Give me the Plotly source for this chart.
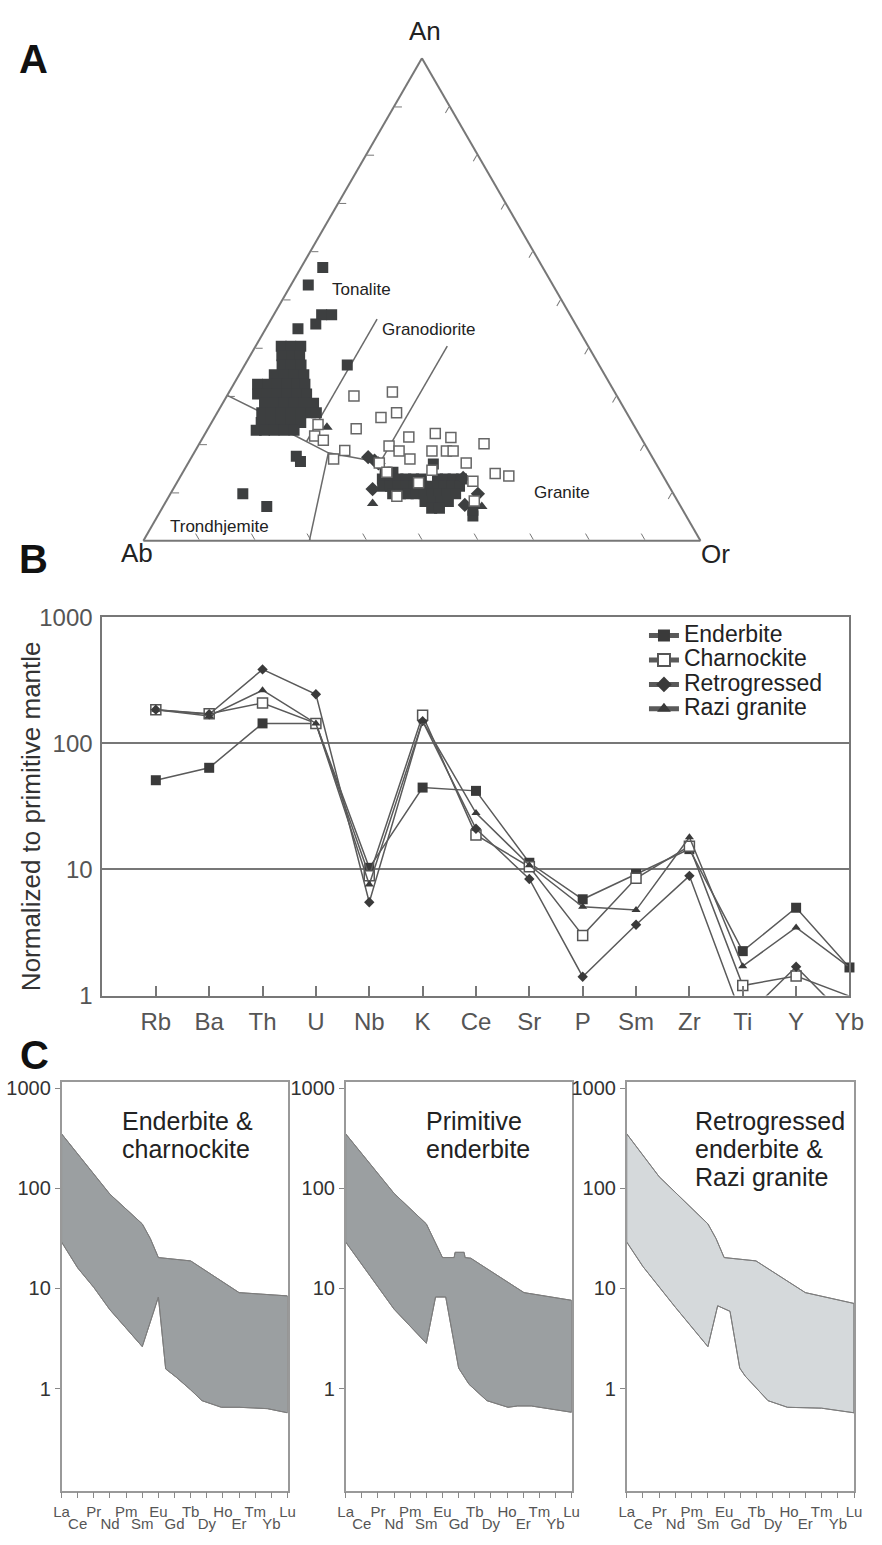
import plotly.graph_objects as go

FONT = "Liberation Sans, Arial, Helvetica, sans-serif"
W, H = 882, 1545

# ---------------- Panel A : An-Ab-Or ternary (percent; Ab = 100 - An - Or) ----------------
ender_an = [56.6, 53.0, 46.8, 46.8, 44.9, 43.9, 36.4, 22.9, 17.5, 16.4, 9.7, 7.1,
            40.3, 40.3, 40.3,
            38.3, 38.3, 38.3,
            36.4, 36.4, 36.4,
            34.4, 34.4, 34.4, 34.4,
            32.4, 32.4, 32.4, 32.4, 32.4, 32.4,
            30.4, 30.4, 30.4, 30.4, 30.4, 30.4,
            28.5, 28.5, 28.5, 28.5, 28.5, 28.5,
            26.5, 26.5, 26.5, 26.5, 26.5, 26.5, 26.5,
            24.5, 24.5, 24.5, 24.5, 24.5,
            22.9, 22.9, 22.9, 22.9,
            15.9,
            14.2, 14.2,
            12.8, 12.8, 12.8, 12.8, 12.8, 12.8, 12.8, 12.8, 12.8, 12.8,
            11.3, 11.3, 11.3, 11.3, 11.3, 11.3, 11.3, 11.3, 11.3, 11.3, 11.3,
            9.7, 9.7, 9.7, 9.7, 9.7, 9.7, 9.7, 9.7, 9.7,
            8.1, 8.1, 8.1, 8.1,
            6.7, 6.7,
            5.1, 6.3]
ender_or = [3.9, 3.1, 8.6, 10.4, 8.5, 5.8, 18.4, 8.8, 18.7, 20.0, 13.0, 18.6,
            4.6, 6.3, 8.1,
            5.7, 7.5, 8.9,
            6.7, 8.3, 10.1,
            6.3, 8.1, 9.8, 11.6,
            4.3, 6.1, 7.8, 9.6, 11.4, 12.8,
            5.3, 7.0, 8.8, 10.6, 12.3, 14.1,
            7.5, 9.3, 11.0, 12.8, 14.6, 16.3,
            8.0, 9.7, 11.5, 13.3, 15.0, 16.8, 17.8,
            8.9, 10.7, 12.5, 14.2, 16.0,
            10.3, 12.0, 13.8, 15.6,
            44.1,
            36.3, 37.7,
            36.5, 37.9, 39.3, 40.7, 42.1, 43.5, 46.4, 47.8, 49.2, 50.7,
            37.3, 38.7, 40.1, 41.5, 42.9, 44.4, 45.8, 47.2, 48.4, 49.7, 51.1,
            39.9, 41.3, 42.7, 44.1, 45.5, 46.9, 48.3, 49.7, 51.2,
            46.5, 47.9, 49.3, 50.7,
            48.4, 49.8,
            56.6, 56.0]

charn_an = [30.0, 23.2, 24.1, 21.7, 20.8, 18.7, 16.9, 30.8, 26.5, 25.5, 21.5, 22.2, 21.4,
            20.1, 19.6, 18.6, 18.6, 18.6, 18.6, 16.9, 16.1, 16.1, 14.2, 14.6, 12.0, 12.3,
            13.9, 13.4, 9.2, 8.2]
charn_or = [22.8, 26.6, 19.3, 19.9, 21.9, 26.8, 25.7, 29.3, 32.2, 29.9, 36.9, 41.3, 44.5,
            51.1, 34.3, 36.6, 42.5, 45.1, 46.3, 39.4, 49.9, 34.3, 36.6, 44.5, 43.4, 53.0,
            56.2, 58.9, 40.9, 55.3]

retro_an = [17.3, 16.6, 16.0, 10.7, 7.4, 9.7, 13.0]
retro_or = [31.7, 33.2, 34.2, 35.8, 54.0, 55.2, 50.9]

razi_an = [23.5, 7.7, 7.1]
razi_or = [21.2, 37.3, 57.2]

# field boundaries (An, Or)
curve_an = [30.1, 26.5, 22.1, 18.2, 16.2]
curve_or = [0.0, 8.1, 15.6, 24.1, 34.5]
tongd_an = [20.6, 45.9]
tongd_or = [19.0, 19.0]
gdgr_an = [16.2, 40.3]
gdgr_or = [34.4, 34.4]
trgr_an = [18.2, 0.0]
trgr_or = [24.1, 29.8]

# ---------------- Panel B : spider diagram ----------------
elements_b = ["Rb", "Ba", "Th", "U", "Nb", "K", "Ce", "Sr", "P", "Sm", "Zr", "Ti", "Y", "Yb"]
enderbite = [51, 64, 144, 144, 10.3, 44.6, 42, 11.3, 5.8, 9.2, 14.5, 2.25, 4.97, 1.67]
charnockite = [185, 172, 209, 144, 8.9, 167, 18.8, 10.5, 3.0, 8.5, 15.3, 1.2, 1.43, 0.99]
retrogressed = [185, 170, 386, 245, 5.5, 150, 21, 8.4, 1.41, 3.64, 8.9, 0.65, 1.69, 0.63]
razi_granite = [185, 165, 264, 144, 7.6, 150, 28, 10.8, 5.06, 4.76, 18, 1.71, 3.47, 1.67]

# ---------------- Panel C : REE envelopes (x = element index, La = 0) ----------------
ree = ["La", "Ce", "Pr", "Nd", "Pm", "Sm", "Eu", "Gd", "Tb", "Dy", "Ho", "Er", "Tm", "Yb", "Lu"]

c1_up_x = [0, 3, 5, 5.5, 6, 8, 11, 14]
c1_up_y = [349, 87, 44, 31.4, 20.3, 18.8, 9.07, 8.41]
c1_lo_x = [0, 1, 2, 3, 4, 5, 6, 6.45, 7.1, 8.0, 8.7, 9.9, 11, 12.75, 14]
c1_lo_y = [29, 16, 10.2, 6.1, 4.0, 2.62, 8.2, 1.57, 1.3, 0.97, 0.757, 0.65, 0.65, 0.63, 0.573]

c2_up_x = [0, 3, 5, 5.5, 6, 6.72, 6.78, 7.34, 7.4, 7.75, 11.05, 14]
c2_up_y = [349, 88.7, 44, 30.3, 20.3, 20.3, 22.9, 22.9, 20.3, 20.0, 9.07, 7.6]
c2_lo_x = [0, 3, 5, 5.57, 6.2, 7.0, 7.65, 8.75, 10.06, 10.66, 11.5, 14]
c2_lo_y = [29, 6.2, 2.83, 8.2, 8.2, 1.6, 1.1, 0.757, 0.65, 0.67, 0.67, 0.58]

c3_up_x = [0, 2, 5, 5.5, 6, 7.96, 11, 14]
c3_up_y = [349, 130, 44, 31.4, 20.3, 18.8, 9.07, 7.07]
c3_lo_x = [0, 1, 3, 5, 5.6, 6.36, 6.96, 7.3, 8.7, 9.9, 12, 14]
c3_lo_y = [29, 16.5, 6.46, 2.62, 6.7, 5.9, 1.6, 1.33, 0.757, 0.65, 0.637, 0.573]


def px(x):
    return x / W


def py(y):
    return 1 - y / H


def ab_of(an, orr):
    return [round(100 - a - o, 2) for a, o in zip(an, orr)]


fig = go.Figure()

# ---- Panel A traces ----
for an, orr in [(curve_an, curve_or), (tongd_an, tongd_or), (gdgr_an, gdgr_or), (trgr_an, trgr_or)]:
    fig.add_trace(go.Scatterternary(a=an, b=ab_of(an, orr), c=orr, mode="lines",
                                    line=dict(color="#6a6a6a", width=1.5),
                                    showlegend=False, hoverinfo="skip"))

fig.add_trace(go.Scatterternary(a=ender_an, b=ab_of(ender_an, ender_or), c=ender_or, mode="markers",
                                marker=dict(symbol="square", size=11, color="#3d3f40"),
                                showlegend=False))
fig.add_trace(go.Scatterternary(a=retro_an, b=ab_of(retro_an, retro_or), c=retro_or, mode="markers",
                                marker=dict(symbol="diamond", size=11, color="#3d3f40"),
                                showlegend=False))
fig.add_trace(go.Scatterternary(a=razi_an, b=ab_of(razi_an, razi_or), c=razi_or, mode="markers",
                                marker=dict(symbol="triangle-up", size=10, color="#3d3f40"),
                                showlegend=False))
fig.add_trace(go.Scatterternary(a=charn_an, b=ab_of(charn_an, charn_or), c=charn_or, mode="markers",
                                marker=dict(symbol="square", size=10, color="white",
                                            line=dict(color="#666", width=1.5)),
                                showlegend=False))

# ---- Panel B traces ----
xb = list(range(len(elements_b)))
LEG = "<span style='font-size:23px'>%s</span>"
series = [
    ("Enderbite", enderbite, dict(symbol="square", size=10, color="#3a3a3a"), False),
    ("Charnockite", charnockite, dict(symbol="square", size=10, color="white",
                                      line=dict(color="#555", width=1.5)), False),
    ("Retrogressed", retrogressed, dict(symbol="diamond", size=8, color="#3a3a3a"), True),
    ("Razi granite", razi_granite, dict(symbol="triangle-up", size=8, color="#3a3a3a"), False),
]
for name, vals, mk, clip in series:
    fig.add_trace(go.Scatter(x=xb, y=vals, name=LEG % name, mode="lines+markers",
                             line=dict(color="#5a5a5a", width=1.5), marker=mk,
                             cliponaxis=clip, xaxis="x", yaxis="y"))

# ---- Panel C traces: filled envelope on the main x axis, outline on the overlay x axis ----
panels_c = [
    (c1_up_x, c1_up_y, c1_lo_x, c1_lo_y, "#9b9fa1", "x2", "x3", "y2"),
    (c2_up_x, c2_up_y, c2_lo_x, c2_lo_y, "#9b9fa1", "x4", "x5", "y3"),
    (c3_up_x, c3_up_y, c3_lo_x, c3_lo_y, "#d5d9db", "x6", "x7", "y4"),
]
for ux, uy, lx, ly, col, xa, xo, ya in panels_c:
    fig.add_trace(go.Scatter(x=ux + lx[::-1], y=uy + ly[::-1], mode="lines", fill="toself",
                             fillcolor=col, line=dict(color="#7d7d7d", width=1),
                             showlegend=False, hoverinfo="skip", xaxis=xa, yaxis=ya))
    fig.add_trace(go.Scatter(x=ux + lx[::-1] + ux[:1], y=uy + ly[::-1] + uy[:1], mode="lines",
                             line=dict(color="#7d7d7d", width=1),
                             showlegend=False, hoverinfo="skip", xaxis=xo, yaxis=ya))

# ---------------- layout ----------------
tern_ax = dict(title=dict(text=""), showticklabels=False, ticks="inside", ticklen=7,
               tickcolor="#777", tickwidth=1.2, dtick=10, tick0=0, showgrid=False,
               linecolor="#777", linewidth=2, min=0)

layout = dict(
    width=W, height=H, margin=dict(l=0, r=0, t=0, b=0),
    paper_bgcolor="white", plot_bgcolor="white",
    font=dict(family=FONT, color="#222"),
    ternary=dict(domain=dict(x=[px(139), px(711)], y=[py(538), py(43)]), sum=100,
                 bgcolor="white", aaxis=tern_ax, baxis=tern_ax, caxis=tern_ax),
    legend=dict(x=px(653), y=py(615), xanchor="left", yanchor="top",
                font=dict(size=16.5, color="#222", family=FONT), bgcolor="rgba(0,0,0,0)",
                itemsizing="constant"),
    xaxis=dict(domain=[px(97), px(864)], range=[-1, 13], tickmode="array", tickvals=xb,
               ticktext=elements_b, ticks="inside", ticklen=10, tickcolor="#777", tickwidth=1.5,
               showline=True, linecolor="#777", linewidth=2, mirror=True, showgrid=False,
               zeroline=False, tickfont=dict(size=24, color="#555"), anchor="y",
               ticklabelstandoff=4),
    yaxis=dict(domain=[py(999), py(614)], type="log", range=[0, 3], tickmode="array",
               tickvals=[1, 10, 100, 1000], ticktext=["1", "10", "100", "1000"], ticks="",
               showline=True, linecolor="#777", linewidth=2, mirror=True, showgrid=True,
               gridcolor="#777", gridwidth=1.5, zeroline=False,
               tickfont=dict(size=24, color="#555"), anchor="x", ticklabelstandoff=3),
)

c_domains = [(55, 287), (346.7, 578.7), (635.3, 868.7)]
axis_names = [("xaxis2", "xaxis3", "yaxis2", "x2", "y2"),
              ("xaxis4", "xaxis5", "yaxis3", "x4", "y3"),
              ("xaxis6", "xaxis7", "yaxis4", "x6", "y4")]
for (x0, x1), (xp, xo, yk, xref, yref) in zip(c_domains, axis_names):
    layout[xp] = dict(domain=[px(x0), px(x1)], range=[0, 14], tickmode="array",
                      tickvals=list(range(15)),
                      ticktext=[n if i % 2 == 0 else "" for i, n in enumerate(ree)],
                      ticks="outside", ticklen=6, tickcolor="#888", showline=True, mirror=True,
                      linecolor="#999", linewidth=1.5, showgrid=False, zeroline=False,
                      tickfont=dict(size=15, color="#555"), anchor=yref, ticklabelstandoff=1)
    layout[xo] = dict(overlaying=xref, range=[0, 14], tickmode="array",
                      tickvals=list(range(1, 15, 2)),
                      ticktext=[ree[i] for i in range(1, 15, 2)],
                      ticks="", showline=False, showgrid=False, zeroline=False, side="bottom",
                      tickfont=dict(size=15, color="#555"), anchor=yref, ticklabelstandoff=22)
    layout[yk] = dict(domain=[py(1503), py(1087)], type="log", range=[-1.02, 3.06],
                      tickmode="array", tickvals=[1, 10, 100, 1000],
                      ticktext=["1", "10", "100", "1000"], ticks="outside", ticklen=5,
                      tickcolor="#888", showline=True, mirror=True, linecolor="#999",
                      linewidth=1.5, showgrid=False, zeroline=False,
                      tickfont=dict(size=20, color="#333"), anchor=xref)

fig.update_layout(**layout)


def ann(text, x, y, size, xanchor="center", yanchor="middle", color="#222", angle=0):
    fig.add_annotation(text=text, x=px(x), y=py(y), xref="paper", yref="paper",
                       xanchor=xanchor, yanchor=yanchor, showarrow=False, textangle=angle,
                       font=dict(size=size, color=color, family=FONT))


# panel letters
ann("<b>A</b>", 26, 46, 40, color="#111")
ann("<b>B</b>", 26, 555, 40, color="#111")
ann("<b>C</b>", 27, 1060, 40, color="#111")

# ternary labels
ann("An", 428, 17, 26)
ann("Ab", 132, 549, 26)
ann("Or", 726, 550, 26)
ann("Tonalite", 363, 280, 17)
ann("Granodiorite", 432, 321, 17)
ann("Trondhjemite", 217, 522, 17)
ann("Granite", 569, 487, 17)

# panel B y title
ann("Normalized to primitive mantle", 23, 816, 26, color="#333", angle=-90)

# panel C titles (one annotation per line)
for i, t in enumerate(["Enderbite &", "charnockite"]):
    ann(t, 115, 1127 + 28.5 * i, 25, xanchor="left")
for i, t in enumerate(["Primitive", "enderbite"]):
    ann(t, 427, 1127 + 28.5 * i, 25, xanchor="left")
for i, t in enumerate(["Retrogressed", "enderbite &", "Razi granite"]):
    ann(t, 703, 1127 + 28.5 * i, 25, xanchor="left")

fig.write_html("out.html")
